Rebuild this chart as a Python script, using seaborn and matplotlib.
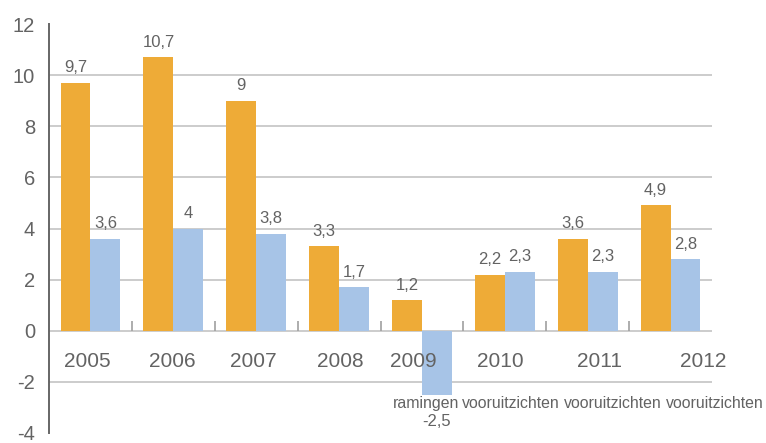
import pandas as pd
import seaborn as sns
import matplotlib.pyplot as plt

# values
years = ['2005', '2006', '2007', '2008', '2009', '2010', '2011', '2012']
serie_a = [9.7, 10.7, 9.0, 3.3, 1.2, 2.2, 3.6, 4.9]
serie_b = [3.6, 4.0, 3.8, 1.7, -2.5, 2.3, 2.3, 2.8]
notes = ['ramingen', 'vooruitzichten', 'vooruitzichten', 'vooruitzichten']

# label placement (category units), the labels drift right like in the original
year_x = [-0.04, 0.99, 1.96, 3.01, 3.89, 4.94, 6.14, 7.39]
note_x = [4.05, 5.07, 6.30, 7.53]

orange = '#EEAB37'
blue = '#A7C4E7'
txt = '#636363'
grid = '#CCCCCC'

df = pd.DataFrame({
    'jaar': years * 2,
    'waarde': serie_a + serie_b,
    'reeks': ['a'] * len(years) + ['b'] * len(years),
})

sns.set_theme(style='white')
plt.rcParams['font.family'] = ['Liberation Sans', 'DejaVu Sans']
plt.rcParams['axes.unicode_minus'] = False

fig = plt.figure(figsize=(7.66, 4.43), dpi=100)
ax = fig.add_axes((49 / 766, 10 / 443, (712 - 49) / 766, (419 - 10) / 443))

sns.barplot(data=df, x='jaar', y='waarde', hue='reeks', palette=[orange, blue],
            width=0.72, saturation=1, linewidth=0, legend=False, ax=ax)

ax.set_xlim(-0.5, 7.5)
ax.set_ylim(-4, 12)
ax.set_yticks(range(-4, 13, 2))
ax.set_xticks([])
ax.set_xlabel('')
ax.set_ylabel('')

# horizontal grid without top/bottom lines
ax.set_axisbelow(True)
for g in range(-2, 11, 2):
    ax.axhline(g, color=grid, lw=1.4, zorder=0.5)

# small ticks between categories on the zero line
ax.vlines([i + 0.5 for i in range(len(years) - 1)], 0, 0.38, color='#A0A0A0', lw=1.2, zorder=0.6)

for s in ['top', 'right', 'bottom']:
    ax.spines[s].set_visible(False)
ax.spines['left'].set_color('#666666')
ax.spines['left'].set_linewidth(1.4)
ax.tick_params(axis='y', length=0, pad=10, labelsize=14.5, labelcolor=txt)

# value labels
for cont, vals in zip(ax.containers, [serie_a, serie_b]):
    for bar, v in zip(cont, vals):
        lab = f'{v:g}'.replace('.', ',')
        x = bar.get_x() + bar.get_width() / 2
        off = 15 if v >= 0 else -27
        ax.annotate(lab, (x, v), xytext=(0, off), textcoords='offset pixels',
                    ha='center', va='center', fontsize=12, color=txt)

# year labels
for x, y in zip(year_x, years):
    ax.text(x, -1.2, y, ha='center', va='center', fontsize=15, color=txt)

for x, n in zip(note_x, notes):
    ax.text(x, -2.85, n, ha='center', va='center', fontsize=11.4, color=txt)

fig.savefig('out.png', dpi=100)
